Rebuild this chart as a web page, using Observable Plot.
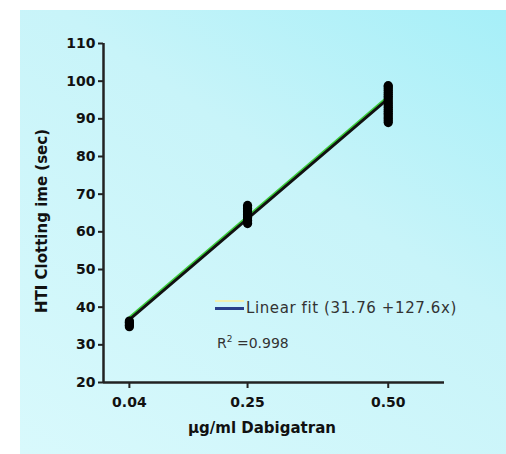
<!DOCTYPE html>
<html>
<head>
<meta charset="utf-8">
<script src="https://cdn.jsdelivr.net/npm/d3@7"></script>
<script src="https://cdn.jsdelivr.net/npm/@observablehq/plot@0.6"></script>
<style>
  html, body { margin: 0; padding: 0; background: #fff; }
  #wrap { position: relative; width: 506px; height: 454px; overflow: hidden; }
  #panel { position: absolute; left: 20px; top: 10px; right: 0; bottom: 0;
    background: linear-gradient(215deg, #a6eff8 0%, #c8f4f9 40%, #d8f9fc 100%); }
  #chart { position: absolute; left: 0; top: 0; }
  .leg { position: absolute; font-family: "DejaVu Sans", sans-serif; color: #333; white-space: nowrap; }
  .sw { position: absolute; height: 2px; }
</style>
</head>
<body>
<div id="wrap">
  <div id="panel"></div>
  <div id="chart"></div>
  <div class="sw" style="left:215px; top:300px; width:29px; background:#f2f0b0;"></div>
  <div class="sw" style="left:215px; top:307px; width:29px; height:3px; background:#2a3f8a;"></div>
  <div class="leg" id="fitLabel" style="left:246px; top:299px; font-size:15px; letter-spacing:0.6px;"></div>
  <div class="leg" id="r2Label" style="left:217px; top:334px; font-size:14px;"></div>
</div>
<script>
// Data
const doses = [0.04, 0.25, 0.50];
const tickLabels = ["0.04", "0.25", "0.50"];
const yTicks = [20, 30, 40, 50, 60, 70, 80, 90, 100, 110];
const times004 = [34.8, 35.2, 35.6, 36.0, 36.3];
const times025 = [62.2, 62.6, 63.0, 63.4, 63.8, 64.2, 64.6, 65.0, 65.4, 65.8, 66.2, 66.6, 67.0];
const times050 = [89.0, 89.5, 90.0, 90.5, 91.0, 91.5, 92.0, 92.5, 93.0, 93.5, 94.0, 94.5,
                  95.0, 95.5, 96.0, 96.5, 97.0, 97.5, 98.0, 98.5, 98.8];
const fitIntercept = 31.76;
const fitSlope = 127.6;
const rSquared = 0.998;
const fitRange = [0.04, 0.50];

const points = [
  ...times004.map(t => ({dose: 0.04, time: t})),
  ...times025.map(t => ({dose: 0.25, time: t})),
  ...times050.map(t => ({dose: 0.50, time: t}))
];
const fit = fitRange.map(d => ({dose: d, time: fitIntercept + fitSlope * d}));

const xMin = -0.006, xMax = 0.6;
const font = "DejaVu Sans, sans-serif";

const plot = Plot.plot({
  width: 506,
  height: 454,
  marginLeft: 103,
  marginRight: 62,
  marginTop: 43,
  marginBottom: 72,
  style: {background: "transparent", fontFamily: font, overflow: "visible"},
  x: {domain: [xMin, xMax]},
  y: {domain: [20, 110]},
  marks: [
    Plot.axisY({ticks: yTicks, tickSize: 5, tickPadding: 3, tickFormat: d => d, label: null,
      fontSize: 14, fontWeight: "bold", fill: "#111", stroke: "#222", strokeWidth: 2}),
    Plot.axisX({ticks: doses, tickSize: 6, tickPadding: 9, tickFormat: (d, i) => tickLabels[i], label: null,
      fontSize: 14, fontWeight: "bold", fill: "#111", stroke: "#222", strokeWidth: 2}),
    Plot.ruleX([xMin], {y1: 20, y2: 110, stroke: "#222", strokeWidth: 2.5}),
    Plot.ruleY([20], {x1: xMin, x2: xMax, stroke: "#222", strokeWidth: 2.5}),
    Plot.text(["HTI Clotting ime (sec)"], {frameAnchor: "left", textAnchor: "middle", dx: -61, dy: 8, rotate: -90,
      fontSize: 15, fontWeight: "bold", fill: "#111"}),
    Plot.text(["µg/ml Dabigatran"], {frameAnchor: "bottom", dy: 50, dx: -12,
      fontSize: 15, fontWeight: "bold", fill: "#111"}),
    Plot.line(fit, {x: "dose", y: "time", stroke: "#3ccc3c", strokeWidth: 2.5, dy: -1.5}),
    Plot.line(fit, {x: "dose", y: "time", stroke: "#111", strokeWidth: 2.8, dy: 0.7}),
    Plot.dot(points, {x: "dose", y: "time", r: 4.6, fill: "#000", stroke: "none"})
  ]
});
document.getElementById("chart").appendChild(plot);
document.getElementById("fitLabel").textContent = `Linear fit (${fitIntercept} +${fitSlope}x)`;
document.getElementById("r2Label").innerHTML = `R<sup style="font-size:9px">2</sup> =${rSquared}`;
</script>
</body>
</html>
